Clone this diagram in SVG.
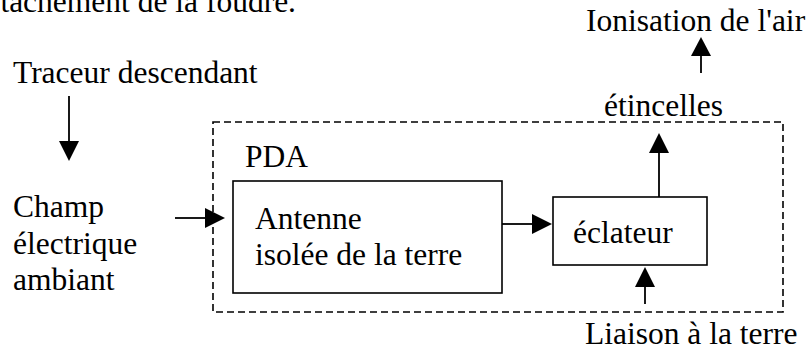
<svg xmlns="http://www.w3.org/2000/svg" width="809" height="353" viewBox="0 0 809 353">
<style>
text{font-size:31.5px;fill:#000}
.box{fill:#fff;stroke:#000;stroke-width:1.6}
.dash{fill:none;stroke:#000;stroke-width:1.6;stroke-dasharray:7 4}
.ln{stroke:#000;stroke-width:1.8;fill:none}
.hd{fill:#000}
</style>
<rect width="809" height="353" fill="#fff"/>
<g font-family="'Liberation Serif', 'Times New Roman', serif">
<text x="296" y="12" text-anchor="end">tachement de la foudre.</text>
<g id="pda">
<rect class="dash" x="213" y="122" width="570" height="190"/>
<text x="245" y="167">PDA</text>
</g>
<g id="traceur"><text x="13" y="83">Traceur descendant</text></g>
<g id="champ"><text x="13" y="217">Champ</text><text x="13" y="254">électrique</text><text x="13" y="290">ambiant</text></g>
<g id="antenne">
<rect class="box" x="233" y="181" width="269" height="112"/>
<text x="255" y="229">Antenne</text>
<text x="255" y="265">isolée de la terre</text>
</g>
<g id="eclateur">
<rect class="box" x="553" y="197" width="154" height="68"/>
<text x="573" y="243">éclateur</text>
</g>
<g id="etincelles"><text x="604" y="116">étincelles</text></g>
<g id="ionisation"><text x="586" y="31">Ionisation de l'air</text></g>
<g id="liaison"><text x="585" y="344">Liaison à la terre</text></g>
</g>
<g id="connectors">
<line class="ln" x1="69" y1="96" x2="69" y2="142"/><polygon class="hd" points="59,141 79,141 69,161"/>
<line class="ln" x1="175" y1="218" x2="206" y2="218"/><polygon class="hd" points="205,208 205,228 225,218"/>
<line class="ln" x1="502" y1="224" x2="533" y2="224"/><polygon class="hd" points="532,214 532,234 552,224"/>
<line class="ln" x1="659" y1="197" x2="659" y2="152"/><polygon class="hd" points="649,153 669,153 659,133"/>
<line class="ln" x1="645" y1="304" x2="645" y2="286"/><polygon class="hd" points="635,287 655,287 645,267"/>
<line class="ln" x1="701" y1="73" x2="701" y2="55"/><polygon class="hd" points="691,56 711,56 701,37"/>
</g>
</svg>
